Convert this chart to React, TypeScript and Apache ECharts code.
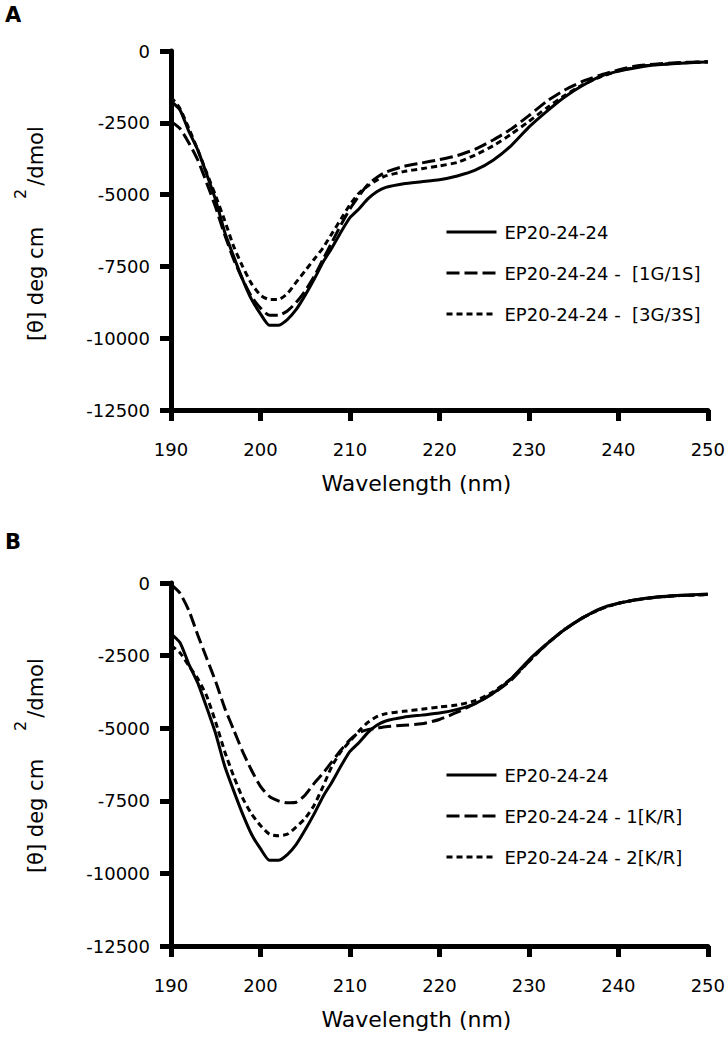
import { useEffect, useRef } from "react";
import * as echarts from "echarts";

// Wavelength grid (nm)
const WAVELENGTHS = [
  190, 191, 192, 193, 194, 195, 196, 197, 198, 199, 200, 201, 202, 203, 204, 205, 206, 207, 208, 209, 210, 211, 212, 213, 214,
  216, 218, 220, 222, 224, 226, 228, 230, 232, 234, 236, 238, 240, 242, 244, 246, 248, 250,
];

// Mean residue ellipticity values
const EP20_24_24 = [
  -1750, -2050, -2800, -3450, -4300, -5200, -6300, -7150, -7950, -8650, -9150, -9550, -9550, -9350, -9000, -8500, -7950, -7350, -6850, -6300, -5800, -5500, -5150, -4900, -4750,
  -4620, -4550, -4480, -4350, -4150, -3800, -3300, -2650, -2100, -1600, -1200, -880, -700, -580, -490, -440, -410, -380,
];
const EP20_24_24_1G1S = [
  -2450, -2700, -3200, -3800, -4600, -5450, -6400, -7250, -7950, -8550, -8950, -9200, -9200, -9050, -8750, -8350, -7850, -7250, -6650, -6050, -5500, -5050, -4650, -4400, -4220,
  -4020, -3900, -3780, -3640, -3420, -3100, -2720, -2250, -1750, -1360, -1060, -840, -660, -520, -460, -420, -390, -370,
];
const EP20_24_24_3G3S = [
  -1600, -2000, -2700, -3450, -4250, -5050, -5900, -6800, -7500, -8100, -8500, -8650, -8650, -8450, -8050, -7650, -7250, -6850, -6350, -5850, -5350, -4950, -4700, -4500, -4350,
  -4200, -4100, -4000, -3880, -3620, -3300, -2900, -2450, -1980, -1550, -1180, -900, -700, -560, -480, -430, -400, -380,
];
const EP20_24_24_1KR = [
  -50, -350, -950, -1800, -2600, -3400, -4300, -5050, -5800, -6450, -7000, -7350, -7500, -7570, -7550, -7300, -6900, -6550, -6150, -5750, -5400, -5150, -5050, -5000, -4950,
  -4900, -4850, -4700, -4450, -4150, -3800, -3350, -2700, -2100, -1600, -1200, -900, -700, -580, -500, -450, -420, -400,
];
const EP20_24_24_2KR = [
  -2150, -2400, -2850, -3300, -3900, -4800, -5800, -6650, -7400, -7950, -8350, -8650, -8700, -8650, -8400, -8100, -7650, -7000, -6300, -5800, -5450, -5100, -4800, -4600, -4500,
  -4420, -4350, -4270, -4200, -4050, -3750, -3300, -2700, -2100, -1600, -1200, -900, -700, -580, -500, -450, -420, -400,
];

const NAMES_A = ["EP20-24-24", "EP20-24-24 -  [1G/1S]", "EP20-24-24 -  [3G/3S]"];
const NAMES_B = ["EP20-24-24", "EP20-24-24 - 1[K/R]", "EP20-24-24 - 2[K/R]"];
const PANEL_LABELS = ["A", "B"];
const X_TITLE = "Wavelength (nm)";
const Y_TITLE_MAIN = "[θ] deg cm";
const Y_TITLE_SUP = "2";
const Y_TITLE_UNIT = "/dmol";

const X_MIN = 190;
const X_MAX = 250;
const X_STEP = 10;
const Y_MIN = -12500;
const Y_MAX = 0;
const Y_STEP = 2500;

const FONT = '"DejaVu Sans", "Liberation Sans", Arial, sans-serif';

const pairs = (vals: number[]) => WAVELENGTHS.map((w, i) => [w, vals[i]]);

const GRIDS = [
  { left: 171, top: 51, width: 543, height: 359 },
  { left: 171, top: 583, width: 543, height: 363 },
];

const DASHES: any[] = ["solid", [13, 5], [6, 4]];

export default function App() {
  const ref = useRef<HTMLDivElement>(null);

  useEffect(() => {
    if (!ref.current) return;
    const chart = echarts.init(ref.current, undefined, { renderer: "svg" });

    const xAxis = GRIDS.map((_, i) => ({
      type: "value",
      gridIndex: i,
      min: X_MIN,
      max: X_MAX,
      interval: X_STEP,
      splitLine: { show: false },
      axisLine: { show: true, onZero: false, lineStyle: { color: "#000", width: 5 } },
      axisTick: { show: true, length: 11, lineStyle: { color: "#000", width: 5 } },
      axisLabel: { color: "#000", fontSize: 18, fontFamily: FONT, margin: 30, formatter: (v: number) => String(v) },
      name: X_TITLE,
      nameLocation: "middle",
      nameGap: 62,
      nameTextStyle: { color: "#000", fontSize: 22, fontFamily: FONT, padding: [0, 46, 0, 0] },
    }));

    const yAxis = GRIDS.map((_, i) => ({
      type: "value",
      gridIndex: i,
      min: Y_MIN,
      max: Y_MAX,
      interval: Y_STEP,
      splitLine: { show: false },
      axisLine: { show: true, onZero: false, lineStyle: { color: "#000", width: 5 } },
      axisTick: { show: true, length: 11, lineStyle: { color: "#000", width: 5 } },
      axisLabel: { color: "#000", fontSize: 18, fontFamily: FONT, margin: 21, formatter: (v: number) => String(v) },
    }));

    const makeSeries = (names: string[], data: number[][], idx: number) =>
      names.map((n, k) => ({
        name: n,
        type: "line",
        xAxisIndex: idx,
        yAxisIndex: idx,
        data: pairs(data[k]),
        symbol: "none",
        showSymbol: false,
        smooth: 0.2,
        lineStyle: { color: "#000", width: 3, type: DASHES[k] },
        itemStyle: { color: "#000" },
        z: 3 - k,
      }));

    const series = [
      ...makeSeries(NAMES_A, [EP20_24_24, EP20_24_24_1G1S, EP20_24_24_3G3S], 0),
      ...makeSeries(NAMES_B, [EP20_24_24, EP20_24_24_1KR, EP20_24_24_2KR], 1),
    ];

    const legendBase = {
      orient: "vertical",
      left: 440,
      itemWidth: 50,
      itemHeight: 20,
      itemGap: 23,
      selectedMode: false,
      itemStyle: { opacity: 0, borderWidth: 0 },
      lineStyle: { width: 3, color: "#000" },
      textStyle: { color: "#000", fontSize: 18, fontFamily: FONT, padding: [0, 0, 0, 3] },
    };

    const yTitle = (top: number) => [
      {
        type: "text",
        x: 36,
        y: top + 233,
        rotation: Math.PI / 2,
        style: { text: Y_TITLE_MAIN, fill: "#000", font: `21px ${FONT}`, align: "center", verticalAlign: "middle", textAlign: "center", textVerticalAlign: "middle" },
      },
      {
        type: "text",
        x: 20,
        y: top + 143,
        rotation: Math.PI / 2,
        style: { text: Y_TITLE_SUP, fill: "#000", font: `16px ${FONT}`, align: "center", verticalAlign: "middle", textAlign: "center", textVerticalAlign: "middle" },
      },
      {
        type: "text",
        x: 36,
        y: top + 105,
        rotation: Math.PI / 2,
        style: { text: Y_TITLE_UNIT, fill: "#000", font: `21px ${FONT}`, align: "center", verticalAlign: "middle", textAlign: "center", textVerticalAlign: "middle" },
      },
    ];

    const option = {
      animation: false,
      backgroundColor: "#fff",
      textStyle: { fontFamily: FONT },
      grid: GRIDS.map((g) => ({ ...g, containLabel: false })),
      xAxis,
      yAxis,
      legend: [
        { ...legendBase, data: NAMES_A, top: 218 },
        { ...legendBase, data: NAMES_B, top: 761 },
      ],
      series,
      graphic: [
        {
          type: "text",
          x: 13,
          y: 15,
          style: { text: PANEL_LABELS[0], fill: "#000", font: `bold 21px ${FONT}`, align: "center", verticalAlign: "middle", textAlign: "center", textVerticalAlign: "middle" },
        },
        {
          type: "text",
          x: 13,
          y: 542,
          style: { text: PANEL_LABELS[1], fill: "#000", font: `bold 21px ${FONT}`, align: "center", verticalAlign: "middle", textAlign: "center", textVerticalAlign: "middle" },
        },
        ...yTitle(GRIDS[0].top),
        ...yTitle(GRIDS[1].top),
      ],
    };

    chart.setOption(option as any);
    return () => chart.dispose();
  }, []);

  return (
    <div
      ref={ref}
      style={{ position: "fixed", left: 0, top: 0, width: 728, height: 1037, background: "#fff" }}
    />
  );
}
